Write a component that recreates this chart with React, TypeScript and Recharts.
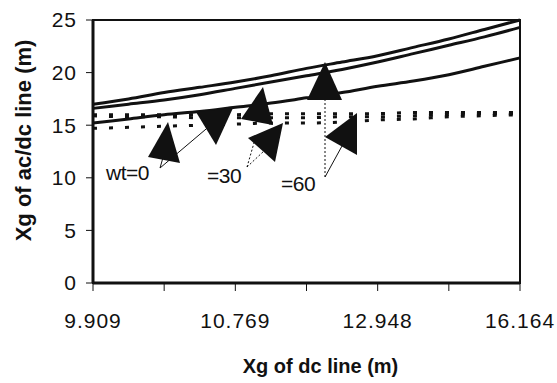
import { LineChart, Line, XAxis, YAxis, ReferenceArea, Label } from 'recharts';

// Xg of dc line (m), one category per point; only four of them are labelled
const xCategories = ['9.909', '10.12', '10.33', '10.55', '10.769', '11.27', '11.80', '12.36', '12.948', '13.72', '14.51', '15.32', '16.164'];
const xLabels = ['9.909', '10.769', '12.948', '16.164'];
const yTicks = [0, 5, 10, 15, 20, 25];

// Xg of ac/dc line (solid)
const acdcWt0 = [15.2, 15.6, 16.0, 16.3, 16.7, 17.1, 17.6, 18.1, 18.7, 19.2, 19.8, 20.6, 21.4];
const acdcWt30 = [16.6, 17.0, 17.4, 17.9, 18.5, 19.1, 19.7, 20.3, 21.0, 21.8, 22.6, 23.4, 24.3];
const acdcWt60 = [17.0, 17.5, 18.1, 18.6, 19.1, 19.7, 20.4, 21.0, 21.6, 22.4, 23.2, 24.1, 25.0];

// dotted series
const dcWt0 = [14.7, 14.8, 14.9, 15.0, 15.1, 15.2, 15.2, 15.3, 15.5, 15.6, 15.8, 15.9, 16.0];
const dcWt30 = [15.9, 15.8, 15.8, 15.7, 15.7, 15.7, 15.7, 15.8, 15.8, 15.9, 16.0, 16.1, 16.1];
const dcWt60 = [16.0, 16.0, 16.0, 16.0, 16.0, 16.1, 16.1, 16.1, 16.1, 16.2, 16.2, 16.2, 16.2];

const data = xCategories.map((x, i) => ({
  x,
  acdc0: acdcWt0[i],
  acdc30: acdcWt30[i],
  acdc60: acdcWt60[i],
  dc0: dcWt0[i],
  dc30: dcWt30[i],
  dc60: dcWt60[i],
}));

const font = '"Liberation Sans", Arial, sans-serif';
const ink = '#111';

function Annotations() {
  return (
    <svg width={557} height={383} style={{ position: 'absolute', left: 0, top: 0, pointerEvents: 'none' }}>
      <g fill={ink} stroke="none">
        <polygon points="148,157 180,163 168,122" />
        <polygon points="196,112 233,108 216,145" />
        <polygon points="241,119 263,87 273,125" />
        <polygon points="248,138 283,123 275,162" />
        <polygon points="307,100 325,62 342,100" />
        <polygon points="325,137 357,113 357,155" />
      </g>
      <g stroke={ink} strokeWidth={1} fill="none">
        <line x1={160} y1={168} x2={212} y2={124} />
        <line x1={160} y1={168} x2={168} y2={140} />
        <line x1={247} y1={167} x2={256} y2={136} strokeDasharray="2 2" />
        <line x1={247} y1={167} x2={265} y2={150} strokeDasharray="2 2" />
        <line x1={325} y1={177} x2={325} y2={100} strokeDasharray="2 2" />
        <line x1={325} y1={177} x2={342} y2={146} />
      </g>
      <g fontFamily={font} fontSize={21} fill={ink} letterSpacing={-0.5}>
        <text x={106} y={180}>wt=0</text>
        <text x={207} y={183}>=30</text>
        <text x={281} y={191}>=60</text>
      </g>
    </svg>
  );
}

export default function App() {
  const tickStyle = { fill: ink, fontSize: 21, fontFamily: font, letterSpacing: 1 };
  return (
    <div style={{ position: 'absolute', left: 0, top: 0, width: 557, height: 383, background: '#fff' }}>
      <LineChart width={557} height={383} data={data} margin={{ top: 20, right: 37, left: 0, bottom: 0 }}>
        <XAxis
          dataKey="x"
          type="category"
          interval={1}
          height={100}
          tickFormatter={(v: string) => (xLabels.includes(v) ? v : '')}
          tick={tickStyle}
          tickSize={8}
          tickMargin={22}
          tickLine={{ stroke: ink, strokeWidth: 1 }}
          axisLine={{ stroke: ink, strokeWidth: 3 }}
        >
          <Label
            content={({ viewBox }: any) => (
              <text
                x={viewBox.x + viewBox.width / 2 + 14}
                y={viewBox.y + 90}
                textAnchor="middle"
                fontFamily={font}
                fontWeight="bold"
                fontSize={20}
                fill={ink}
              >
                Xg of dc line (m)
              </text>
            )}
          />
        </XAxis>
        <YAxis
          type="number"
          domain={[0, 25]}
          ticks={yTicks}
          width={93}
          tick={tickStyle}
          tickSize={7}
          tickMargin={9}
          tickLine={{ stroke: ink, strokeWidth: 1 }}
          axisLine={{ stroke: ink, strokeWidth: 3 }}
        >
          <Label
            content={({ viewBox }: any) => {
              const cx = viewBox.x + 23;
              const cy = viewBox.y + viewBox.height / 2 - 11;
              return (
                <text
                  x={cx}
                  y={cy}
                  transform={`rotate(-90, ${cx}, ${cy})`}
                  textAnchor="middle"
                  dominantBaseline="central"
                  fontFamily={font}
                  fontWeight="bold"
                  fontSize={22}
                  fill={ink}
                >
                  Xg of ac/dc line (m)
                </text>
              );
            }}
          />
        </YAxis>
        <ReferenceArea x1="9.909" x2="16.164" y1={0} y2={25} fill="none" stroke={ink} strokeWidth={2} ifOverflow="visible" />
        <Line type="monotone" dataKey="dc0" stroke={ink} strokeWidth={3} strokeDasharray="4 12" dot={false} isAnimationActive={false} />
        <Line type="monotone" dataKey="dc30" stroke={ink} strokeWidth={3} strokeDasharray="4 12" dot={false} isAnimationActive={false} />
        <Line type="monotone" dataKey="dc60" stroke={ink} strokeWidth={3} strokeDasharray="4 12" dot={false} isAnimationActive={false} />
        <Line type="monotone" dataKey="acdc0" stroke={ink} strokeWidth={3} dot={false} isAnimationActive={false} />
        <Line type="monotone" dataKey="acdc30" stroke={ink} strokeWidth={3} dot={false} isAnimationActive={false} />
        <Line type="monotone" dataKey="acdc60" stroke={ink} strokeWidth={3} dot={false} isAnimationActive={false} />
      </LineChart>
      <Annotations />
    </div>
  );
}
